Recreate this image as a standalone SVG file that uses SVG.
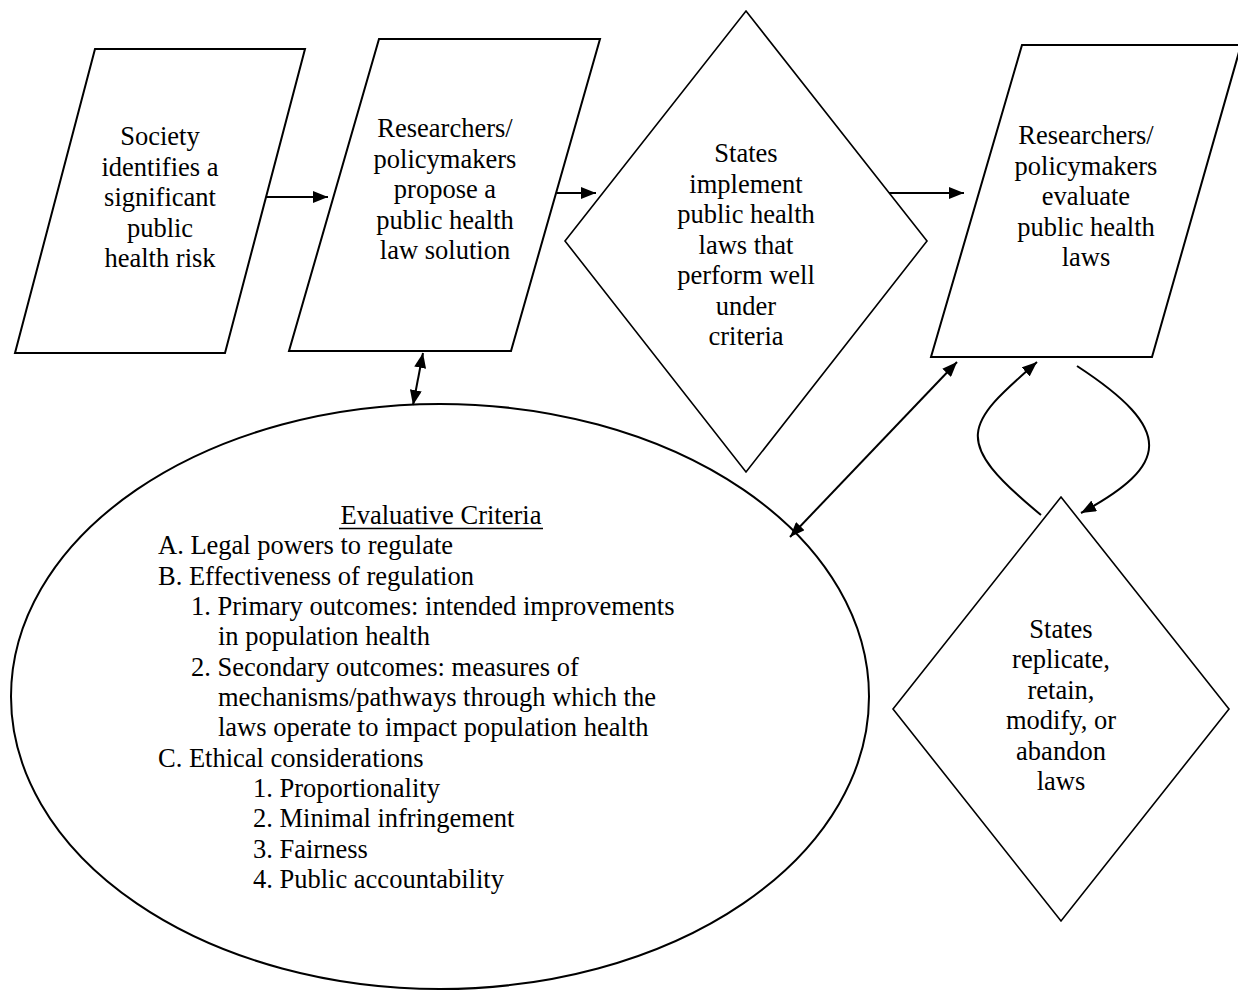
<svg xmlns="http://www.w3.org/2000/svg" width="1238" height="990" viewBox="0 0 1238 990">
  <style>
    .shape { fill: #ffffff; stroke: #000000; stroke-width: 2; stroke-linejoin: miter; }
    .dia { fill: #ffffff; stroke: #000000; stroke-width: 1.6; }
    .conn { fill: none; stroke: #000000; stroke-width: 2; }
    .t { font-family: "Liberation Serif", "Times New Roman", serif; font-size: 26.5px; fill: #000000; }
    .c { text-anchor: middle; }
  </style>
  <defs>
    <marker id="arr" viewBox="0 0 15 12" refX="15" refY="6" markerWidth="15" markerHeight="12" markerUnits="userSpaceOnUse" orient="auto-start-reverse">
      <path d="M0,0 L15,6 L0,12 Z" fill="#000000"/>
    </marker>
    <clipPath id="clipText">
      <rect x="0" y="400" width="900" height="494"/>
    </clipPath>
  </defs>

  <g id="node-society">
    <polygon class="shape" points="95,49 305,49 225,353 15,353"/>
    <text class="t c" x="160" y="145">Society</text>
    <text class="t c" x="160" y="175.5">identifies a</text>
    <text class="t c" x="160" y="206">significant</text>
    <text class="t c" x="160" y="236.5">public</text>
    <text class="t c" x="160" y="267">health risk</text>
  </g>

  <g id="node-propose">
    <polygon class="shape" points="379,39 600,39 511,351 289,351"/>
    <text class="t c" x="445" y="137">Researchers/</text>
    <text class="t c" x="445" y="167.5">policymakers</text>
    <text class="t c" x="445" y="198">propose a</text>
    <text class="t c" x="445" y="228.5">public health</text>
    <text class="t c" x="445" y="259">law solution</text>
  </g>

  <g id="node-implement">
    <polygon class="dia" points="746,11 927,241 746,472 565,241"/>
    <text class="t c" x="746" y="162">States</text>
    <text class="t c" x="746" y="192.5">implement</text>
    <text class="t c" x="746" y="223">public health</text>
    <text class="t c" x="746" y="253.5">laws that</text>
    <text class="t c" x="746" y="284">perform well</text>
    <text class="t c" x="746" y="314.5">under</text>
    <text class="t c" x="746" y="345">criteria</text>
  </g>

  <g id="node-evaluate">
    <polygon class="shape" points="1022,45 1241,45 1152,357 931,357"/>
    <text class="t c" x="1086" y="144">Researchers/</text>
    <text class="t c" x="1086" y="174.5">policymakers</text>
    <text class="t c" x="1086" y="205">evaluate</text>
    <text class="t c" x="1086" y="235.5">public health</text>
    <text class="t c" x="1086" y="266">laws</text>
  </g>

  <g id="node-replicate">
    <polygon class="dia" points="1061,497 1229,709 1061,921 893,709"/>
    <text class="t c" x="1061" y="638">States</text>
    <text class="t c" x="1061" y="668.4">replicate,</text>
    <text class="t c" x="1061" y="698.8">retain,</text>
    <text class="t c" x="1061" y="729.2">modify, or</text>
    <text class="t c" x="1061" y="759.6">abandon</text>
    <text class="t c" x="1061" y="790">laws</text>
  </g>

  <g id="node-criteria">
    <ellipse class="shape" cx="440" cy="696.5" rx="429" ry="292.5" stroke-width="1.8"/>
    <g clip-path="url(#clipText)">
      <text class="t c" x="441" y="524">Evaluative Criteria</text>
      <line x1="339" y1="528.5" x2="543" y2="528.5" stroke="#000" stroke-width="1.3"/>
      <text class="t" x="158" y="554.3">A. Legal powers to regulate</text>
      <text class="t" x="158" y="584.7">B. Effectiveness of regulation</text>
      <text class="t" x="191" y="615">1. Primary outcomes: intended improvements</text>
      <text class="t" x="218" y="645.3">in population health</text>
      <text class="t" x="191" y="675.7">2. Secondary outcomes: measures of</text>
      <text class="t" x="218" y="706">mechanisms/pathways through which the</text>
      <text class="t" x="218" y="736.3">laws operate to impact population health</text>
      <text class="t" x="158" y="766.7">C. Ethical considerations</text>
      <text class="t" x="253" y="797">1. Proportionality</text>
      <text class="t" x="253" y="827.3">2. Minimal infringement</text>
      <text class="t" x="253" y="857.7">3. Fairness</text>
      <text class="t" x="253" y="888">4. Public accountability</text>
    </g>
  </g>

  <g id="connectors">
    <path class="conn" d="M266,197 L328,197" marker-end="url(#arr)"/>
    <path class="conn" d="M557,193 L596,193" marker-end="url(#arr)"/>
    <path class="conn" d="M889,193 L964,193" marker-end="url(#arr)"/>
    <path class="conn" d="M423,353 L413,405" marker-start="url(#arr)" marker-end="url(#arr)"/>
    <path class="conn" d="M957,362 L790,537" marker-start="url(#arr)" marker-end="url(#arr)"/>
    <path class="conn" d="M1041,515 C950,440 965,425 1037,362" marker-end="url(#arr)"/>
    <path class="conn" d="M1077,366 C1175,430 1170,465 1081,513" marker-end="url(#arr)"/>
  </g>
</svg>
